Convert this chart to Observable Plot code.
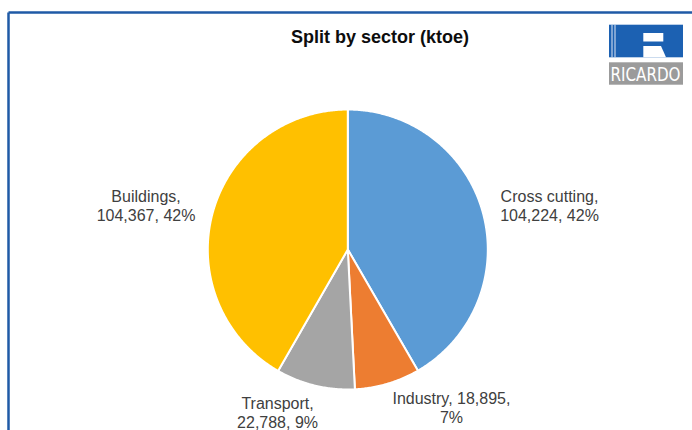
<!DOCTYPE html>
<html>
<head>
<meta charset="utf-8">
<script src="https://cdn.jsdelivr.net/npm/d3@7"></script>
<script src="https://cdn.jsdelivr.net/npm/@observablehq/plot@0.6"></script>
<style>
  html, body { margin: 0; padding: 0; background: #fff; }
  #wrap { position: relative; width: 692px; height: 430px; overflow: hidden; background: #fff; }
  #wrap > svg { position: absolute; left: 0; top: 0; }
</style>
</head>
<body>
<div id="wrap"></div>
<script>
// ---- data ----
const title = "Split by sector (ktoe)";
const sectors = ["Cross cutting", "Industry", "Transport", "Buildings"];
const values = [104224, 18895, 22788, 104367];
const percents = [42, 7, 9, 42];
const colors = ["#5B9BD5", "#ED7D31", "#A5A5A5", "#FFC000"];

// label nudges (px) from the outer arc point at each slice's mid-angle
const labelNudge = [[66.5, -7.8], [63.9, 23.7], [-37.6, 26.5], [-66.5, -8.3]];

// ---- layout ----
const W = 692, H = 430;
const R = 140;             // pie radius in px
const cx = 347.3, cy = 249; // pie centre in px
const FONT = "16px 'Liberation Sans', Arial, sans-serif";
const WRAP = 125;          // label wrap width in px (like the spreadsheet's label box)

const rows = sectors.map((s, i) => ({sector: s, value: values[i], pct: percents[i], i}));
const arcs = d3.pie().sort(null).value(d => d.value)(rows);

// slice outlines as closed polygons in radius units
const pts = [];
for (const a of arcs) {
  pts.push({sector: a.data.sector, x: 0, y: 0});
  const n = Math.max(2, Math.ceil((a.endAngle - a.startAngle) / (Math.PI / 360)));
  for (let k = 0; k <= n; ++k) {
    const t = a.startAngle + (a.endAngle - a.startAngle) * k / n;
    pts.push({sector: a.data.sector, x: Math.sin(t), y: Math.cos(t)});
  }
}

// word wrap measured with the real font
const ctx = document.createElement("canvas").getContext("2d");
ctx.font = FONT;
function wrap(str) {
  const words = str.split(" ");
  const lines = [];
  let cur = "";
  for (const w of words) {
    const test = cur ? cur + " " + w : w;
    if (cur && ctx.measureText(test).width > WRAP) { lines.push(cur); cur = w; }
    else cur = test;
  }
  if (cur) lines.push(cur);
  return lines.join("\n");
}

const fmt = d3.format(",");
const labels = arcs.map(a => {
  const m = (a.startAngle + a.endAngle) / 2;
  const [nx, ny] = labelNudge[a.data.i];
  return {
    sector: a.data.sector,
    x: Math.sin(m) + nx / R,
    y: Math.cos(m) - ny / R,
    text: wrap(`${a.data.sector}, ${fmt(a.data.value)}, ${a.data.pct}%`)
  };
});

const chart = Plot.plot({
  width: W,
  height: H,
  margin: 0,
  x: {domain: [-cx / R, (W - cx) / R], axis: null},
  y: {domain: [-(H - cy) / R, cy / R], axis: null},
  color: {domain: sectors, range: colors},
  style: {background: "transparent", fontFamily: "'Liberation Sans', Arial, sans-serif"},
  marks: [
    Plot.line(pts, {
      x: "x", y: "y", z: "sector", fill: "sector",
      stroke: "white", strokeWidth: 2, strokeLinejoin: "round",
      curve: "linear-closed"
    }),
    Plot.text(labels, {
      x: "x", y: "y", text: "text",
      fontSize: 16, fill: "#404040",
      lineHeight: 19 / 16,
      textAnchor: "middle", lineAnchor: "middle"
    })
  ]
});

const wrapEl = document.getElementById("wrap");
wrapEl.appendChild(chart);

// decoration overlay: frame, title, logo
const ns = "http://www.w3.org/2000/svg";
const deco = document.createElementNS(ns, "svg");
deco.setAttribute("width", W);
deco.setAttribute("height", H);
deco.innerHTML = `
  <line x1="8.5" y1="12.5" x2="692" y2="12.5" stroke="#1f5aa6" stroke-width="2.5"/>
  <line x1="8.5" y1="12.5" x2="8.5" y2="430" stroke="#1f5aa6" stroke-width="2.5"/>
  <text x="380" y="42.7" text-anchor="middle" font-family="'Liberation Sans', Arial, sans-serif"
        font-weight="bold" font-size="18" fill="#0d0d0d"></text>
  <g>
    <rect x="609" y="24.7" width="74" height="32.6" fill="#1c61b2"/>
    <rect x="611.5" y="24.7" width="1" height="32.6" fill="#dfe8f4"/>
    <rect x="614.5" y="24.7" width="1" height="32.6" fill="#dfe8f4"/>
    <rect x="643.3" y="33" width="20" height="8.5" fill="#fff"/>
    <polygon points="643.3,46 661,46 666,57.3 643.3,57.3" fill="#fff"/>
    <rect x="609" y="62.3" width="74" height="22.4" fill="#9b9b9b"/>
    <text x="610.5" y="81.3" font-family="'DejaVu Sans Condensed', 'Liberation Sans Narrow', Arial, sans-serif"
          font-size="19" fill="#fff" textLength="70" lengthAdjust="spacingAndGlyphs">RICARDO</text>
  </g>`;
deco.querySelector("text").textContent = title;
wrapEl.appendChild(deco);
</script>
</body>
</html>
